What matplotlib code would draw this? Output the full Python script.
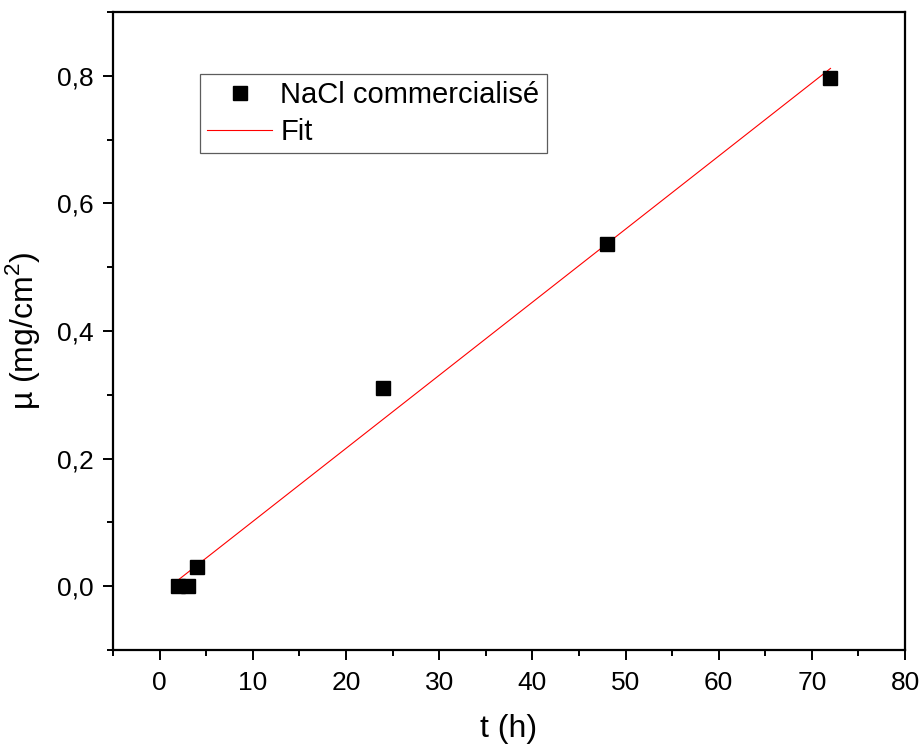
import numpy as np
import matplotlib
matplotlib.use("Agg")
import matplotlib.pyplot as plt
from matplotlib.ticker import MultipleLocator, FuncFormatter

plt.rcParams["font.family"] = ["Liberation Sans", "DejaVu Sans"]
plt.rcParams["mathtext.fontset"] = "custom"
plt.rcParams["mathtext.rm"] = "Liberation Sans"

# measured data
t_hours = [2, 3, 4, 24, 48, 72]
mu_mg_cm2 = [0.0, 0.0, 0.03, 0.311, 0.536, 0.797]

# linear fit of the measured points
slope, intercept = np.polyfit(t_hours, mu_mg_cm2, 1)
fit_x = np.array([min(t_hours), max(t_hours)])
fit_y = slope * fit_x + intercept

fig = plt.figure(figsize=(9.22, 7.51), dpi=100)
ax = fig.add_axes([0.1226, 0.1345, 0.8590, 0.8495])

ax.plot(t_hours, mu_mg_cm2, linestyle="none", marker="s", markersize=9.5,
        color="black", label="NaCl commercialisé", zorder=3)
ax.plot(fit_x, fit_y, color="red", linewidth=0.8, label="Fit", zorder=2)

ax.set_xlim(-5, 80)
ax.set_ylim(-0.1, 0.9)
ax.xaxis.set_major_locator(MultipleLocator(10))
ax.xaxis.set_minor_locator(MultipleLocator(5))
ax.yaxis.set_major_locator(MultipleLocator(0.2))
ax.yaxis.set_minor_locator(MultipleLocator(0.1))
ax.yaxis.set_major_formatter(FuncFormatter(lambda v, _: f"{v:.1f}".replace(".", ",")))

ax.tick_params(which="both", direction="out", top=False, right=False, width=1.4)
ax.tick_params(which="major", length=7, labelsize=19)
ax.tick_params(axis="x", which="major", pad=8)
ax.tick_params(axis="y", which="major", pad=7)
ax.tick_params(which="minor", length=4)
for spine in ax.spines.values():
    spine.set_linewidth(1.6)

ax.set_xlabel("t (h)", fontsize=23, labelpad=14)
ax.set_ylabel("µ (mg/cm$^\\mathregular{2}$)", fontsize=23, labelpad=11)

leg = ax.legend(loc="upper left", bbox_to_anchor=(0.110, 0.903), fontsize=21,
                frameon=True, fancybox=False, edgecolor="#333333",
                handlelength=2.2, handletextpad=0.3, borderpad=0.25,
                labelspacing=0.3, borderaxespad=0)
leg.get_frame().set_linewidth(0.9)

fig.savefig("out.png", dpi=100)
